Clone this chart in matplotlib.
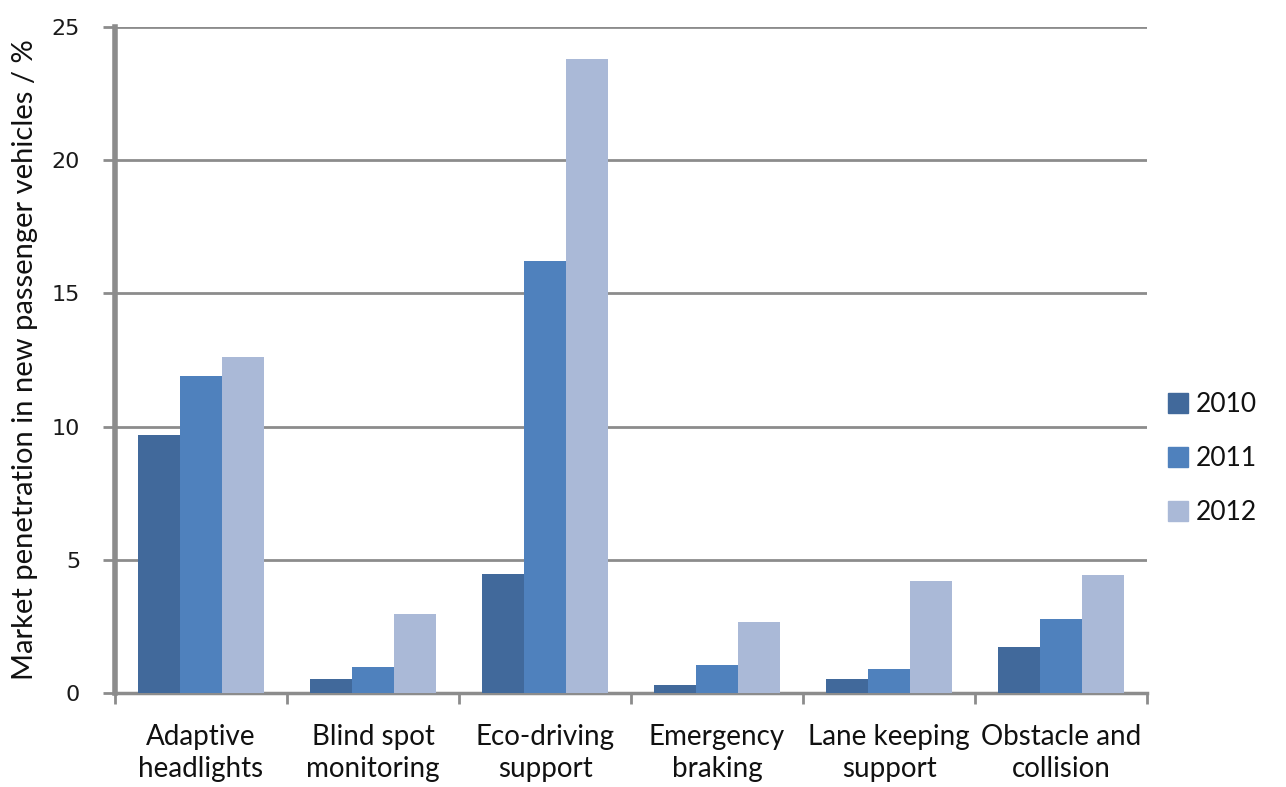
#market penetration of driver assistance systems
import numpy as np
import matplotlib.pyplot as plt
from matplotlib.patches import Patch

categories = ["Adaptive\nheadlights", "Blind spot\nmonitoring", "Eco-driving\nsupport",
              "Emergency\nbraking", "Lane keeping\nsupport", "Obstacle and\ncollision"]
years = ["2010", "2011", "2012"]
y2010 = [9.7, 0.53, 4.47, 0.3, 0.53, 1.73]
y2011 = [11.9, 0.98, 16.2, 1.05, 0.9, 2.78]
y2012 = [12.6, 2.97, 23.8, 2.67, 4.2, 4.43]
yticks = [0, 5, 10, 15, 20, 25]

colors = ["#41699b", "#4f81bd", "#aab9d7"]
grey = "#8c8c8c"

plt.rcParams['font.family'] = ['Lato', 'DejaVu Sans']

fig = plt.figure(figsize=(12.86, 7.87), dpi=100)
ax = fig.add_axes([0.0894, 0.1194, 0.8026, 0.8463])

x = np.arange(len(categories))
w = 0.245
for i, vals in enumerate([y2010, y2011, y2012]):
    ax.bar(x + (i - 1) * w, vals, width=w, color=colors[i], zorder=3)

ax.set_xlim(-0.5, len(categories) - 0.5)
ax.set_ylim(0, 25)
ax.set_yticks(yticks)
ax.set_yticklabels([str(t) for t in yticks], family='DejaVu Sans', fontsize=16, color='#1a1a1a')
ax.yaxis.grid(True, color=grey, linewidth=2, zorder=0)

# category labels between boundary ticks
ax.set_xticks(np.arange(len(categories) + 1) - 0.5)
ax.set_xticklabels([])
ax.set_xticks(x, minor=True)
ax.set_xticklabels(categories, minor=True, fontsize=20, linespacing=1.3, color='#111111')
ax.tick_params(axis='x', which='minor', length=0, pad=22)
ax.tick_params(axis='x', which='major', length=8, width=2, color=grey)
ax.tick_params(axis='y', length=9, width=2, color=grey, pad=16)

for s in ['top', 'right']:
    ax.spines[s].set_visible(False)
ax.spines['left'].set_color(grey)
ax.spines['left'].set_linewidth(4)
ax.spines['bottom'].set_color(grey)
ax.spines['bottom'].set_linewidth(2.5)

ax.set_ylabel("Market penetration in new passenger vehicles / %", fontsize=21, labelpad=10,
              color='#111111')

handles = [Patch(color=c) for c in colors]
ax.legend(handles, years, loc='center left', bbox_to_anchor=(1.02, 0.352), frameon=False,
          fontsize=19, handlelength=0.75, handleheight=0.75, handletextpad=0.3,
          labelspacing=1.1, labelcolor='#111111', borderaxespad=0, borderpad=0)

fig.savefig("out.png")
